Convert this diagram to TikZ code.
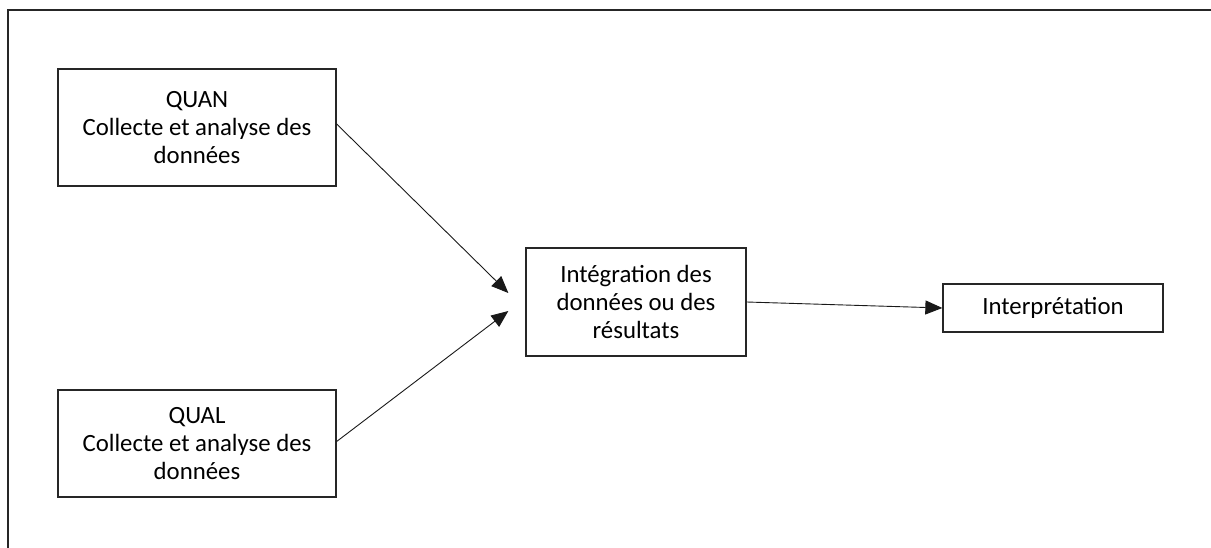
\documentclass[tikz,border=0pt]{standalone}
\usepackage{fontspec}
\setmainfont{Carlito}
\usetikzlibrary{arrows.meta,calc}

\begin{document}
\begin{tikzpicture}[x=1pt,y=-1pt,
  box/.style={draw=black!85, line width=1.3pt, inner sep=0pt, align=center,
    font=\fontsize{24.8}{28}\selectfont},
  link/.style={draw=black!90, line width=0.9pt,
    -{Triangle[length=17pt,width=14pt]}},
  frameline/.style={draw=black!85, line width=2pt}]
  \useasboundingbox (0,0) rectangle (1211,548);

  % open frame: top and left edges only
  \coordinate (fTR) at (1211,10.5);
  \coordinate (fTL) at (8,10.5);
  \coordinate (fBL) at (8,548);
  \draw[frameline] (fTR) -- (fTL) -- (fBL);

  % boxes
  \node[box, minimum width=278pt, minimum height=117pt] (quan) at (197,127.5)
    {QUAN\\Collecte et analyse des\\données};
  \node[box, minimum width=278pt, minimum height=107pt] (qual) at (197,443.5)
    {QUAL\\Collecte et analyse des\\données};
  \node[box, minimum width=220pt, minimum height=108pt] (integ) at (636,302)
    {Intégration des\\données ou des\\résultats};
  \node[box, minimum width=220pt, minimum height=48pt] (interp) at (1053,308)
    {Interprétation};

  % arrow ends, short of the integration box
  \coordinate (tipA) at ($(integ.west)+(-17,-9)$);
  \coordinate (tipB) at ($(integ.west)+(-17,9)$);

  % connectors
  \draw[link] ($(quan.east)+(0,-3.5)$) -- (tipA);
  \draw[link] ($(qual.east)+(0,-2)$) -- (tipB);
  \draw[link] (integ.east) -- (interp.west);
\end{tikzpicture}
\end{document}
